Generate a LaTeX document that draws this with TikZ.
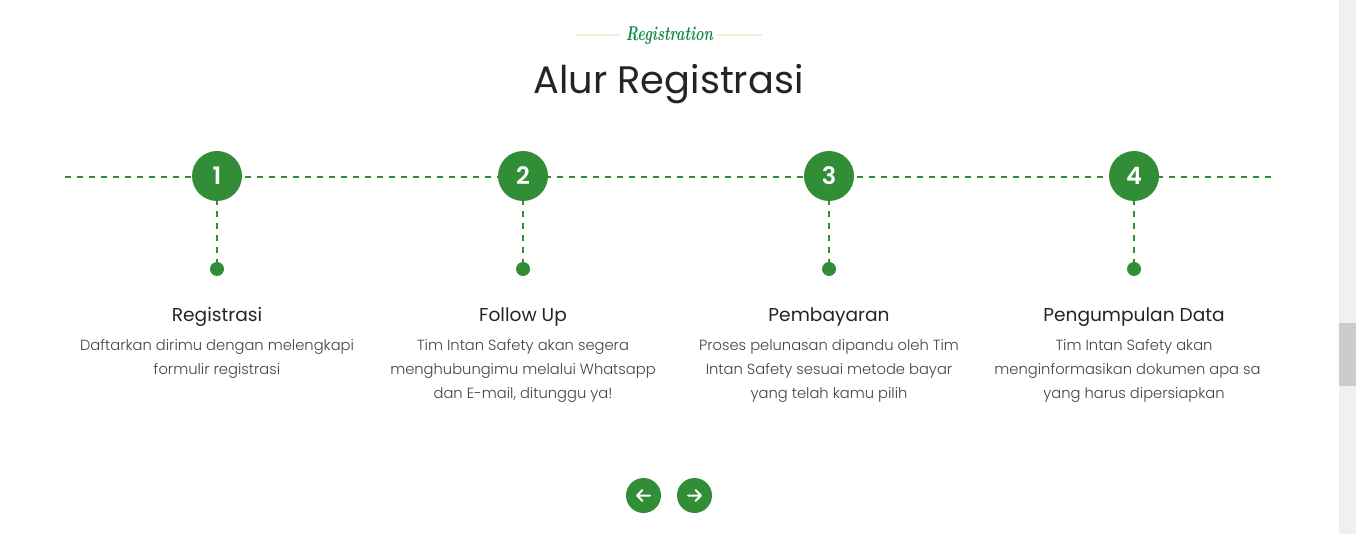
\documentclass[tikz,border=0pt]{standalone}
\usepackage{fontspec}
\setmainfont{Poppins}
\newfontfamily\lightf{Poppins Light}
\newfontfamily\regf{Poppins}
\newfontfamily\medf{Poppins SemiBold}
\newfontfamily\scriptf{Latin Modern Roman}
\definecolor{gr}{HTML}{328E36}
\definecolor{ink}{HTML}{212529}
\definecolor{body}{HTML}{444444}
\definecolor{regcol}{HTML}{108A4C}
\definecolor{cream}{HTML}{F3EFDA}
\tikzset{
 x=1pt,y=-1pt,
 flow/.style={draw=gr,line width=2.3pt,dash pattern=on 6pt off 6pt},
 num/.style={circle,fill=gr,minimum size=50pt,inner sep=0pt,text=white,font=\medf\fontsize{24}{24}\selectfont},
 dot/.style={circle,fill=gr,minimum size=14pt,inner sep=0pt},
 btn/.style={circle,fill=gr,minimum size=35pt,inner sep=0pt},
 head/.style={text=ink,font=\regf\fontsize{18.6}{22}\selectfont,anchor=center,inner sep=0pt},
 desc/.style={text=body,align=center,font=\lightf\fontsize{14.7}{24}\selectfont,anchor=north,inner sep=0pt},
 rule/.style={draw=cream,line width=2pt},
 ico/.style={draw=white,line width=2pt,line cap=round,line join=round}
}
\begin{document}
\begin{tikzpicture}
\useasboundingbox (0,0) rectangle (1356,534);
\fill[white] (0,0) rectangle (1356,534);
\fill[black!6] (1339,0) rectangle (1356,534);
\fill[black!20] (1339,323) rectangle (1356,386);
% title
\node[text=regcol,font=\scriptf\itshape\bfseries\fontsize{20}{20}\selectfont,inner sep=0pt,xscale=0.72] (sub) at (669.5,36) {Registration};
\coordinate (r1a) at (575,35); \coordinate (r1b) at (620,35);
\coordinate (r2a) at (717,35); \coordinate (r2b) at (762,35);
\draw[rule] (r1a) -- (r1b);
\draw[rule] (r2a) -- (r2b);
\node[text=ink,font=\regf\fontsize{38.3}{42}\selectfont,inner sep=0pt] (title) at (668.5,84.5) {Alur Registrasi};
% timeline
\coordinate (ls) at (65,177);
\coordinate (le) at (1272,177);
\draw[flow] (ls) -- (le);
\foreach \n/\x/\h/\t in {
 1/217/Registrasi/{Daftarkan dirimu dengan melengkapi\\formulir registrasi},
 2/523/Follow Up/{Tim Intan Safety akan segera\\menghubungimu melalui Whatsapp\\dan E-mail, ditunggu ya!},
 3/829/Pembayaran/{Proses pelunasan dipandu oleh Tim\\Intan Safety sesuai metode bayar\\yang telah kamu pilih},
 4/1134/Pengumpulan Data/{Tim Intan Safety akan\\menginformasikan dokumen apa sa\rule{13pt}{0pt}\\yang harus dipersiapkan}}{
 \coordinate (v\n) at (\x,175);
 \node[dot] (d\n) at (\x,269) {};
 \draw[flow] (v\n) -- (d\n);
 \node[num] (c\n) at (\x,176) {\n};
 \node[head] (h\n) at (\x,317) {\h};
 \node[desc] (t\n) at (\x,339.5) {\t};
}
% buttons
\node[btn] (prev) at (643.5,495.5) {};
\node[btn] (next) at (694.5,495.5) {};
\draw[ico] (650,495.5) -- (637.5,495.5) (642.5,490) -- (637,495.5) -- (642.5,501);
\draw[ico] (688,495.5) -- (700.5,495.5) (695.5,490) -- (701,495.5) -- (695.5,501);
\end{tikzpicture}
\end{document}
